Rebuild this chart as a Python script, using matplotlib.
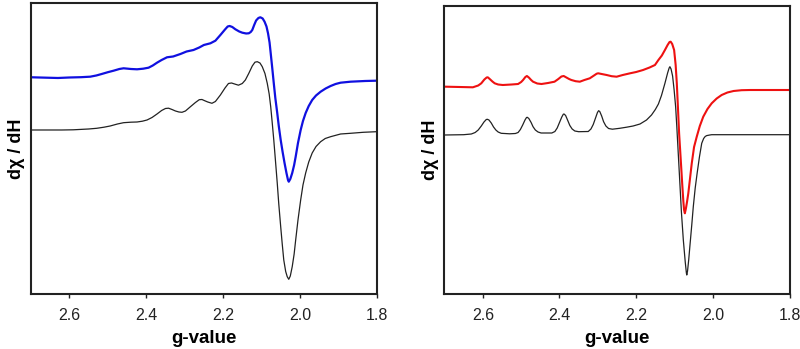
import matplotlib
matplotlib.use('Agg')
import matplotlib.pyplot as plt

plt.rcParams['font.family'] = ['Liberation Sans', 'DejaVu Sans']

# pannello sinistro: spettro simulato (nero) e sperimentale (blu)
g_left_sim = [2.700, 2.620, 2.590, 2.550, 2.529, 2.510, 2.494, 2.475, 2.459, 2.440,
              2.424, 2.410, 2.398, 2.385, 2.372, 2.360, 2.350, 2.342, 2.333, 2.324,
              2.315, 2.307, 2.298, 2.285, 2.272, 2.262, 2.255, 2.248, 2.240, 2.229,
              2.220, 2.207, 2.195, 2.186, 2.178, 2.170, 2.160, 2.150, 2.142, 2.133,
              2.124, 2.117, 2.111, 2.104, 2.098, 2.091, 2.085, 2.080, 2.076, 2.072,
              2.068, 2.064, 2.059, 2.055, 2.050, 2.046, 2.042, 2.037, 2.033, 2.029,
              2.025, 2.020, 2.015, 2.011, 2.005, 1.998, 1.992, 1.985, 1.977, 1.968,
              1.958, 1.946, 1.934, 1.920, 1.894, 1.868, 1.835, 1.800]
i_left_sim = [1.0, 1.0, 1.2, 2.0, 2.7, 3.8, 5.0, 7.0, 8.3, 8.8,
              9.0, 9.8, 11.0, 13.5, 17.0, 20.5, 22.5, 22.8, 21.5, 20.0,
              19.0, 18.7, 20.0, 24.3, 28.5, 31.3, 31.5, 30.3, 29.0, 27.7,
              29.5, 36.0, 43.0, 47.5, 48.0, 47.0, 45.8, 47.5, 51.0, 57.7,
              65.0, 68.8, 69.3, 68.0, 64.3, 57.5, 47.7, 37.0, 24.3, 8.0,
              -9.0, -28.0, -52.0, -73.0, -95.7, -113.0, -129.0, -140.5, -145.7, -148.3,
              -145.0, -135.7, -123.0, -109.0, -89.0, -69.0, -54.0, -42.0, -31.0, -22.0,
              -15.5, -10.7, -7.5, -5.7, -3.0, -2.3, -1.3, -0.7]

g_left_exp = [2.698, 2.660, 2.630, 2.600, 2.570, 2.546, 2.530, 2.516, 2.500, 2.485,
              2.470, 2.459, 2.440, 2.424, 2.408, 2.394, 2.383, 2.372, 2.360, 2.346,
              2.330, 2.311, 2.295, 2.277, 2.262, 2.250, 2.233, 2.220, 2.207, 2.195,
              2.188, 2.183, 2.176, 2.168, 2.158, 2.150, 2.140, 2.133, 2.128, 2.124,
              2.119, 2.114, 2.108, 2.103, 2.097, 2.092, 2.087, 2.083, 2.079, 2.076,
              2.072, 2.068, 2.064, 2.059, 2.055, 2.050, 2.045, 2.040, 2.035, 2.031,
              2.029, 2.025, 2.020, 2.015, 2.011, 2.005, 1.998, 1.992, 1.985, 1.977,
              1.968, 1.958, 1.946, 1.933, 1.920, 1.907, 1.894, 1.868, 1.830, 1.800]
i_left_exp = [53.7, 53.3, 53.0, 53.5, 53.8, 54.3, 55.5, 57.0, 58.8, 60.3,
              62.0, 62.7, 62.0, 61.7, 62.3, 63.3, 65.5, 68.3, 71.0, 73.7,
              74.5, 77.0, 79.5, 81.0, 83.5, 86.0, 87.7, 90.3, 96.0, 101.5,
              104.5, 105.0, 104.0, 101.7, 99.5, 98.3, 97.5, 97.7, 99.0, 101.0,
              106.0, 110.5, 113.0, 113.7, 112.5, 109.3, 104.5, 97.7, 88.5, 77.7,
              63.0, 47.7, 33.0, 18.0, 5.0, -9.0, -21.0, -32.0, -42.0, -49.0,
              -50.7, -48.0, -42.0, -34.0, -25.7, -12.0, 1.0, 10.0, 18.0, 25.0,
              31.0, 35.5, 39.3, 42.5, 45.0, 47.0, 48.3, 49.3, 50.0, 50.3]

# pannello destro: spettro simulato (nero) e sperimentale (rosso)
g_right_sim = [2.700, 2.650, 2.630, 2.620, 2.612, 2.604, 2.597, 2.591, 2.588, 2.584,
               2.578, 2.572, 2.566, 2.560, 2.552, 2.530, 2.515, 2.508, 2.502, 2.496,
               2.490, 2.486, 2.484, 2.480, 2.474, 2.469, 2.463, 2.456, 2.448, 2.420,
               2.412, 2.406, 2.400, 2.394, 2.390, 2.388, 2.384, 2.379, 2.373, 2.367,
               2.360, 2.350, 2.325, 2.318, 2.312, 2.306, 2.301, 2.298, 2.295, 2.290,
               2.285, 2.279, 2.272, 2.262, 2.243, 2.225, 2.208, 2.190, 2.173, 2.160,
               2.150, 2.142, 2.134, 2.125, 2.118, 2.114, 2.112, 2.109, 2.105, 2.101,
               2.097, 2.094, 2.090, 2.086, 2.082, 2.077, 2.072, 2.069, 2.068, 2.066,
               2.063, 2.060, 2.055, 2.051, 2.046, 2.041, 2.035, 2.029, 2.024, 2.020,
               2.016, 2.008, 2.003, 1.800]
i_right_sim = [0.0, 0.3, 1.0, 2.5, 5.0, 9.0, 13.0, 15.5, 15.7, 15.0,
               12.0, 8.0, 5.0, 3.0, 1.7, 1.2, 1.5, 2.5, 5.5, 10.0,
               15.0, 17.5, 17.7, 16.5, 12.5, 8.3, 5.0, 3.0, 2.0, 2.0,
               3.5, 7.0, 12.5, 18.0, 20.8, 21.0, 19.5, 15.0, 9.5, 6.0,
               4.0, 3.3, 3.5, 6.0, 10.5, 17.0, 22.5, 24.3, 23.5, 19.0,
               13.3, 9.0, 6.5, 5.8, 6.7, 7.8, 9.0, 11.0, 15.0, 20.0,
               25.5, 31.0, 39.5, 51.7, 62.0, 67.0, 68.3, 66.0, 59.0, 45.0,
               28.0, 8.3, -20.0, -48.3, -77.0, -105.0, -127.0, -138.0, -140.0, -136.0,
               -125.0, -111.7, -90.0, -71.7, -53.0, -38.3, -22.0, -8.3, -3.5, -1.5,
               -0.6, 0.0, 0.3, 0.3]

g_right_exp = [2.696, 2.660, 2.626, 2.612, 2.604, 2.596, 2.590, 2.587, 2.582, 2.575,
               2.569, 2.560, 2.548, 2.525, 2.508, 2.500, 2.495, 2.489, 2.485, 2.480,
               2.474, 2.469, 2.458, 2.447, 2.430, 2.413, 2.403, 2.395, 2.389, 2.382,
               2.375, 2.369, 2.358, 2.347, 2.335, 2.321, 2.310, 2.303, 2.299, 2.290,
               2.277, 2.264, 2.251, 2.235, 2.216, 2.200, 2.182, 2.165, 2.151, 2.142,
               2.133, 2.125, 2.118, 2.113, 2.110, 2.106, 2.101, 2.097, 2.094, 2.091,
               2.088, 2.084, 2.080, 2.077, 2.075, 2.073, 2.070, 2.067, 2.064, 2.060,
               2.055, 2.049, 2.042, 2.034, 2.025, 2.014, 2.003, 1.990, 1.977, 1.962,
               1.946, 1.925, 1.903, 1.850, 1.800]
i_right_exp = [48.3, 48.0, 47.7, 49.5, 51.7, 55.5, 57.5, 57.7, 56.0, 53.5,
               51.7, 50.5, 50.0, 50.5, 51.0, 53.0, 55.0, 58.0, 59.0, 57.5,
               55.0, 53.3, 51.5, 51.0, 52.0, 53.3, 56.0, 58.5, 59.0, 57.5,
               56.0, 55.0, 53.8, 53.3, 55.0, 56.7, 59.5, 61.3, 61.7, 61.0,
               60.0, 58.8, 58.3, 60.0, 61.7, 63.0, 65.0, 67.5, 70.0, 75.0,
               79.5, 85.0, 90.0, 93.0, 93.3, 91.0, 85.0, 70.0, 51.7, 27.0,
               1.7, -23.0, -48.3, -66.0, -75.0, -78.3, -73.0, -66.0, -58.3, -45.0,
               -28.3, -12.0, -1.7, 9.0, 18.3, 26.0, 31.7, 36.5, 40.0, 42.5,
               44.0, 44.8, 45.0, 45.0, 45.0]

g_ticks = [2.6, 2.4, 2.2, 2.0, 1.8]
g_tick_labels = ['2.6', '2.4', '2.2', '2.0', '1.8']

fig = plt.figure(figsize=(8.0, 3.49), dpi=100)
ax1 = fig.add_axes([0.0388, 0.1576, 0.4321, 0.8347])
ax2 = fig.add_axes([0.5556, 0.1576, 0.4313, 0.8252])

ax1.plot(g_left_exp, i_left_exp, color='#1010e0', lw=1.6)
ax1.plot(g_left_sim, i_left_sim, color='#222222', lw=0.9)
ax1.set_ylim(-163, 128.3)

ax2.plot(g_right_exp, i_right_exp, color='#ee1111', lw=1.5)
ax2.plot(g_right_sim, i_right_sim, color='#222222', lw=0.9)
ax2.set_ylim(-159, 129)

for ax in (ax1, ax2):
    ax.set_xlim(2.7, 1.8)
    ax.set_xticks(g_ticks)
    ax.set_xticklabels(g_tick_labels)
    ax.set_yticks([])
    ax.tick_params(axis='x', direction='out', length=3, width=1.0, pad=7,
                   labelsize=11.5, colors='#222222')
    for s in ax.spines.values():
        s.set_linewidth(1.5)
        s.set_color('#222222')
    ax.set_xlabel('g-value', fontsize=13.5, fontweight='bold', labelpad=5)
    ax.set_ylabel('dχ / dH', fontsize=13, fontweight='bold', labelpad=4)

fig.savefig('out.png', dpi=100)
